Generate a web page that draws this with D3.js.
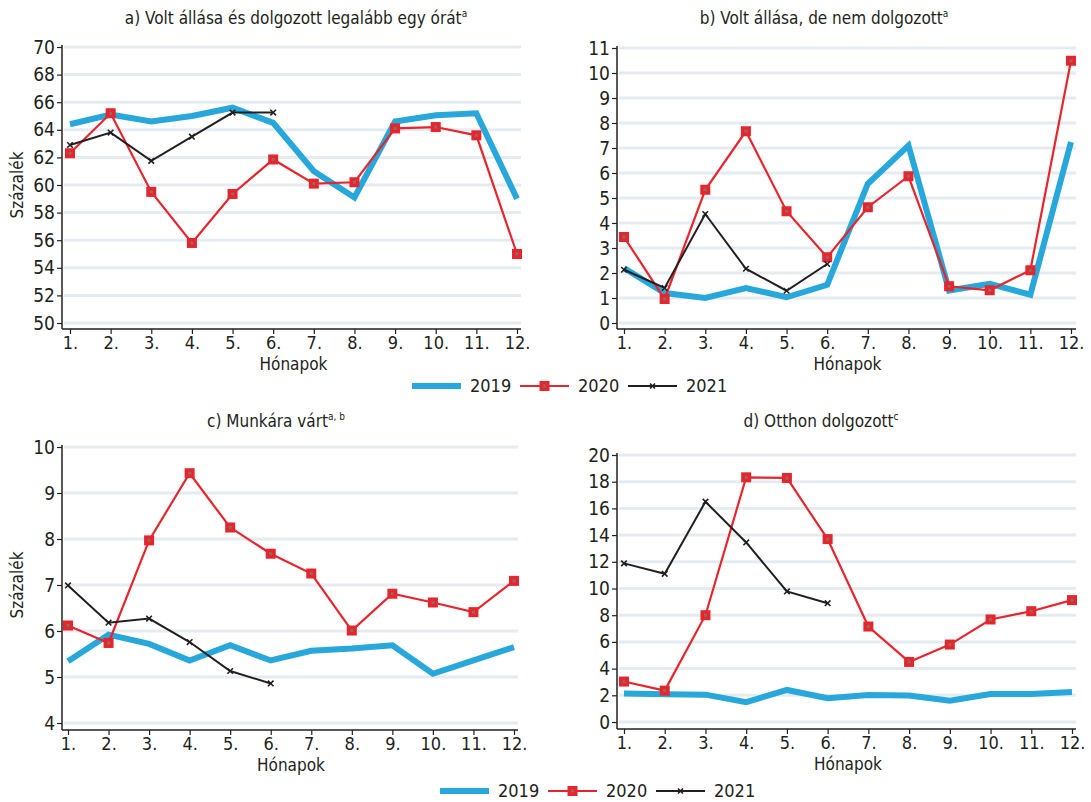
<!DOCTYPE html>
<html>
<head>
<meta charset="utf-8">
<script src="https://cdn.jsdelivr.net/npm/d3@7"></script>
<style>
  body { margin: 0; background: #fff; }
  svg text { font-family: "Liberation Sans Narrow", "DejaVu Sans Condensed", sans-serif; fill: #231f20; }
</style>
</head>
<body>
<svg id="chart" width="1091" height="802"></svg>
<script>
// months on the x axis
const months = [1, 2, 3, 4, 5, 6, 7, 8, 9, 10, 11, 12];
const years = ["2019", "2020", "2021"];

// a) Volt állása és dolgozott legalább egy órát
const a2019 = [64.4, 65.1, 64.6, 65.0, 65.6, 64.5, 61.0, 59.1, 64.6, 65.05, 65.2, 59.0];
const a2020 = [62.3, 65.2, 59.5, 55.8, 59.35, 61.85, 60.1, 60.2, 64.1, 64.2, 63.6, 55.0];
const a2021 = [62.9, 63.8, 61.75, 63.5, 65.25, 65.25];

// b) Volt állása, de nem dolgozott
const b2019 = [2.2, 1.2, 1.0, 1.4, 1.03, 1.53, 5.57, 7.1, 1.3, 1.57, 1.13, 7.24];
const b2020 = [3.44, 0.96, 5.33, 7.67, 4.47, 2.63, 4.63, 5.87, 1.47, 1.31, 2.11, 10.49];
const b2021 = [2.13, 1.4, 4.36, 2.17, 1.29, 2.36];

// c) Munkára várt
const c2019 = [5.34, 5.92, 5.72, 5.36, 5.69, 5.36, 5.57, 5.62, 5.69, 5.07, 5.36, 5.65];
const c2020 = [6.12, 5.74, 7.97, 9.43, 8.25, 7.68, 7.25, 6.01, 6.81, 6.62, 6.41, 7.09];
const c2021 = [6.99, 6.18, 6.27, 5.76, 5.13, 4.86];

// d) Otthon dolgozott
const d2019 = [2.13, 2.08, 2.05, 1.48, 2.4, 1.78, 2.03, 1.98, 1.6, 2.1, 2.1, 2.25];
const d2020 = [3.03, 2.35, 8.0, 18.33, 18.28, 13.7, 7.15, 4.5, 5.8, 7.68, 8.3, 9.13];
const d2021 = [11.88, 11.1, 16.5, 13.45, 9.78, 8.9];

const aTicks = d3.range(50, 71, 2);
const bTicks = d3.range(0, 12, 1);
const cTicks = d3.range(4, 11, 1);
const dTicks = d3.range(0, 21, 2);

const blue = "#28a7da";
const red = "#e6262c";
const black = "#231f20";
const gridColor = "#e5ecf1";

const svg = d3.select("#chart");

function drawPanel(p) {
    const g = svg.append("g");

    const x = d3.scaleLinear().domain([1, 12]).range([p.x1, p.x12]);
    const y = d3.scaleLinear().domain([p.ticks[0], p.ticks[p.ticks.length - 1]]).range([p.yBot, p.yTop]);

    // grid
    g.selectAll(".grid")
        .data(p.ticks)
        .enter()
        .append("line")
        .attr("x1", p.left + 2)
        .attr("x2", p.right)
        .attr("y1", d => y(d))
        .attr("y2", d => y(d))
        .attr("stroke", gridColor)
        .attr("stroke-width", 3);

    // y axis
    const yAxis = d3.axisLeft(y).tickValues(p.ticks).tickFormat(d3.format("d"))
        .tickSize(5).tickSizeOuter(0).tickPadding(2);
    const ya = g.append("g")
        .attr("transform", `translate(${p.left},0)`)
        .call(yAxis);
    ya.select(".domain").remove();
    ya.selectAll("line").attr("stroke", black).attr("stroke-width", 1.2);
    ya.selectAll("text").style("font-size", "19px").attr("fill", black);

    // x axis
    const xAxis = d3.axisBottom(x).tickValues(months).tickFormat(d => d + ".")
        .tickSize(5).tickSizeOuter(0).tickPadding(2);
    const xa = g.append("g")
        .attr("transform", `translate(0,${p.axisY})`)
        .call(xAxis);
    xa.select(".domain").remove();
    xa.selectAll("line").attr("stroke", black).attr("stroke-width", 1.2);
    xa.selectAll("text").style("font-size", "18px").attr("fill", black);

    // axis lines
    g.append("line")
        .attr("x1", p.left).attr("x2", p.left)
        .attr("y1", p.yTop - 2).attr("y2", p.axisY)
        .attr("stroke", black).attr("stroke-width", 1.5);
    g.append("line")
        .attr("x1", p.left).attr("x2", p.right)
        .attr("y1", p.axisY).attr("y2", p.axisY)
        .attr("stroke", black).attr("stroke-width", 1.5);

    const line = d3.line()
        .x((d, i) => x(months[i]))
        .y(d => y(d));

    // 2019
    g.append("path")
        .attr("d", line(p.s2019))
        .attr("fill", "none")
        .attr("stroke", blue)
        .attr("stroke-width", 6);

    // 2020
    g.append("path")
        .attr("d", line(p.s2020))
        .attr("fill", "none")
        .attr("stroke", red)
        .attr("stroke-width", 2.2);
    g.selectAll(".sq")
        .data(p.s2020)
        .enter()
        .append("rect")
        .attr("x", (d, i) => x(months[i]) - 5)
        .attr("y", d => y(d) - 5)
        .attr("width", 10)
        .attr("height", 10)
        .attr("fill", red);
    g.selectAll(".sqdot")
        .data(p.s2020)
        .enter()
        .append("rect")
        .attr("x", (d, i) => x(months[i]) - 1.5)
        .attr("y", d => y(d) - 1.5)
        .attr("width", 3)
        .attr("height", 3)
        .attr("fill", "#8a6a6a");

    // 2021
    g.append("path")
        .attr("d", line(p.s2021))
        .attr("fill", "none")
        .attr("stroke", black)
        .attr("stroke-width", 2);
    g.selectAll(".star")
        .data(p.s2021)
        .enter()
        .append("path")
        .attr("d", d3.symbol().type(d3.symbolX).size(22))
        .attr("transform", (d, i) => `translate(${x(months[i])},${y(d)})`)
        .attr("stroke", black)
        .attr("stroke-width", 1.6)
        .attr("fill", "none");

    // title
    const t = g.append("text")
        .attr("x", p.titleX)
        .attr("y", p.titleY)
        .attr("text-anchor", "middle")
        .style("font-size", "17px");
    t.append("tspan").text(p.title);
    t.append("tspan").text(p.sup).style("font-size", "10px").attr("dy", -7);

    // x label
    g.append("text")
        .attr("x", (p.x1 + p.x12) / 2)
        .attr("y", p.axisY + 41)
        .attr("text-anchor", "middle")
        .style("font-size", "17px")
        .text("Hónapok");

    if (p.ylabel) {
        g.append("text")
            .attr("transform", `translate(23,${(p.yTop + p.yBot) / 2}) rotate(-90)`)
            .attr("text-anchor", "middle")
            .style("font-size", "17px")
            .text("Százalék");
    }
}

function drawLegend(cx, cy) {
    const g = svg.append("g").attr("transform", `translate(${cx},${cy})`);
    const items = [
        { off: 0, color: blue, w: 6 },
        { off: 108, color: red, w: 2.2 },
        { off: 216, color: black, w: 2 }
    ];
    items.forEach((it, i) => {
        g.append("line")
            .attr("x1", it.off).attr("x2", it.off + 49)
            .attr("y1", 0).attr("y2", 0)
            .attr("stroke", it.color)
            .attr("stroke-width", it.w);
        if (i === 1) {
            g.append("rect").attr("x", it.off + 19.5).attr("y", -5).attr("width", 10).attr("height", 10).attr("fill", red);
            g.append("rect").attr("x", it.off + 23).attr("y", -1.5).attr("width", 3).attr("height", 3).attr("fill", "#8a6a6a");
        }
        if (i === 2) {
            g.append("path")
                .attr("d", d3.symbol().type(d3.symbolX).size(18))
                .attr("transform", `translate(${it.off + 24.5},0)`)
                .attr("stroke", black).attr("stroke-width", 1.6);
        }
        g.append("text")
            .attr("x", it.off + 58)
            .attr("y", 6)
            .style("font-size", "18px")
            .text(years[i]);
    });
}

drawPanel({
    title: "a) Volt állása és dolgozott legalább egy órát", sup: "a",
    titleX: 296, titleY: 24,
    left: 62, right: 521, x1: 70, x12: 517,
    yTop: 47, yBot: 323, axisY: 329,
    ticks: aTicks, ylabel: true,
    s2019: a2019, s2020: a2020, s2021: a2021
});

drawPanel({
    title: "b) Volt állása, de nem dolgozott", sup: "a",
    titleX: 824, titleY: 24,
    left: 617, right: 1076, x1: 624, x12: 1071,
    yTop: 48, yBot: 323, axisY: 329,
    ticks: bTicks, ylabel: false,
    s2019: b2019, s2020: b2020, s2021: b2021
});

drawPanel({
    title: "c) Munkára várt", sup: "a, b",
    titleX: 276, titleY: 427,
    left: 62, right: 518, x1: 68, x12: 514,
    yTop: 447, yBot: 723, axisY: 730,
    ticks: cTicks, ylabel: true,
    s2019: c2019, s2020: c2020, s2021: c2021
});

drawPanel({
    title: "d) Otthon dolgozott", sup: "c",
    titleX: 821, titleY: 427,
    left: 617, right: 1076, x1: 624, x12: 1072,
    yTop: 455, yBot: 722, axisY: 729,
    ticks: dTicks, ylabel: false,
    s2019: d2019, s2020: d2020, s2021: d2021
});

drawLegend(412, 386);
drawLegend(440, 791);
</script>
</body>
</html>
